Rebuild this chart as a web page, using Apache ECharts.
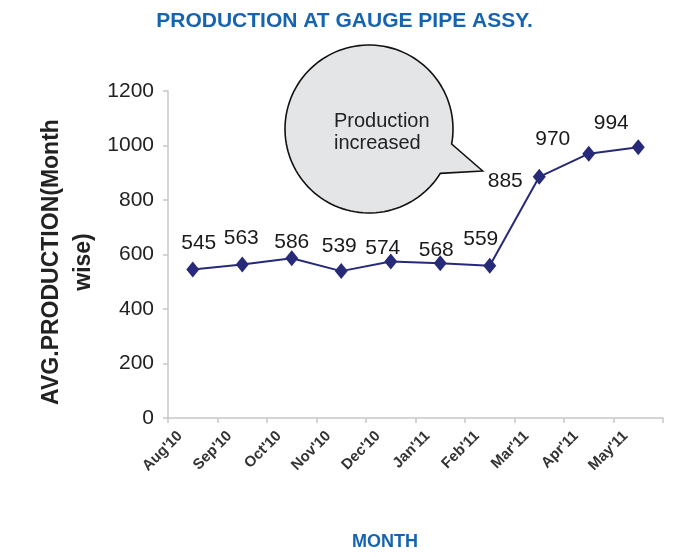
<!DOCTYPE html>
<html>
<head>
<meta charset="utf-8">
<script src="https://cdn.jsdelivr.net/npm/echarts@6/dist/echarts.min.js"></script>
<style>
html,body{margin:0;padding:0;background:#fff;}
#chart{width:678px;height:557px;}
</style>
</head>
<body>
<div id="chart"></div>
<script>
// ---- data ----
var months = ["Aug'10", "Sep'10", "Oct'10", "Nov'10", "Dec'10", "Jan'11", "Feb'11", "Mar'11", "Apr'11", "May'11"];
var production = [545, 563, 586, 539, 574, 568, 559, 885, 970, 994];
var yTicks = { min: 0, max: 1200, interval: 200 };
var titleText = "PRODUCTION AT GAUGE PIPE ASSY.";
var xName = "MONTH";
var yName = "AVG.PRODUCTION(Month\nwise)";
var calloutText = "Production\nincreased";

// label nudges (style only)
var labelNudges = [[6,-26],[-1,-26],[0,-16],[-2,-25],[-8,-13],[-4,-13],[-9,-26],[-34,4],[-36,-14],[-27,-24]];

var FONT = "'Liberation Sans', Arial, sans-serif";
var BLUE = '#1664b0';
var NAVY = '#262a78';

var chart = echarts.init(document.getElementById('chart'), null, {renderer: 'canvas'});

var seriesData = production.map(function (v, i) {
  return {
    value: v,
    label: { offset: labelNudges[i] }
  };
});

// callout bubble outline (annotation shape)
var cx = 369, cy = 129, r = 84;
var a0 = 31.9 * Math.PI / 180, a1 = (360 + 10.3) * Math.PI / 180;
var bubble = [[482.7, 171]];
var steps = 120;
for (var k = 0; k <= steps; k++) {
  var a = a0 + (a1 - a0) * k / steps;
  bubble.push([cx + r * Math.cos(a), cy + r * Math.sin(a)]);
}

var option = {
  backgroundColor: '#ffffff',
  animation: false,
  grid: { left: 168, right: 15, top: 91, bottom: 139, containLabel: false },
  xAxis: {
    type: 'category',
    data: months,
    boundaryGap: true,
    axisLine: { show: true, lineStyle: { color: '#c8c8c8', width: 1.5 } },
    axisTick: { show: true, length: 5, alignWithLabel: false, lineStyle: { color: '#c8c8c8', width: 1.5 } },
    axisLabel: {
      rotate: 45,
      interval: 0,
      margin: 3,
      padding: [0, 18, 0, 0],
      fontFamily: FONT,
      fontWeight: 'bold',
      fontSize: 15,
      color: '#333333'
    },
    splitLine: { show: false }
  },
  yAxis: {
    type: 'value',
    min: yTicks.min,
    max: yTicks.max,
    interval: yTicks.interval,
    axisLine: { show: true, lineStyle: { color: '#c8c8c8', width: 1.5 } },
    axisTick: { show: true, length: 5, lineStyle: { color: '#c8c8c8', width: 1.5 } },
    axisLabel: {
      margin: 14, fontFamily: FONT, fontSize: 21, color: '#222222',
      formatter: function (v) { return String(v); }
    },
    splitLine: { show: false }
  },
  series: [{
    type: 'line',
    data: seriesData,
    symbol: 'diamond',
    symbolSize: [13, 16],
    lineStyle: { color: NAVY, width: 2 },
    itemStyle: { color: NAVY },
    label: {
      show: true,
      position: 'inside',
      fontFamily: FONT,
      fontSize: 21,
      color: '#1a1a1a'
    },
    z: 3
  }],
  graphic: [
    {
      type: 'text',
      x: 344.5, y: 21,
      style: { text: titleText, font: 'bold 21px ' + FONT, fill: BLUE, align: 'center', verticalAlign: 'middle' }
    },
    {
      type: 'text',
      x: 385, y: 542,
      style: { text: xName, font: 'bold 18px ' + FONT, fill: BLUE, align: 'center', verticalAlign: 'middle' }
    },
    {
      type: 'text',
      x: 68, y: 262,
      rotation: Math.PI / 2,
      style: { text: yName, font: 'bold 23px ' + FONT, fill: '#222222', align: 'center', verticalAlign: 'middle', lineHeight: 32 }
    },
    {
      type: 'polygon',
      shape: { points: bubble },
      style: { fill: '#e4e5e7', stroke: '#111111', lineWidth: 1.6 },
      z: 10
    },
    {
      type: 'text',
      x: 334, y: 132,
      style: { text: calloutText, font: '20px ' + FONT, fill: '#222222', align: 'left', verticalAlign: 'middle', lineHeight: 22 },
      z: 11
    }
  ]
};

chart.setOption(option);
</script>
</body>
</html>
